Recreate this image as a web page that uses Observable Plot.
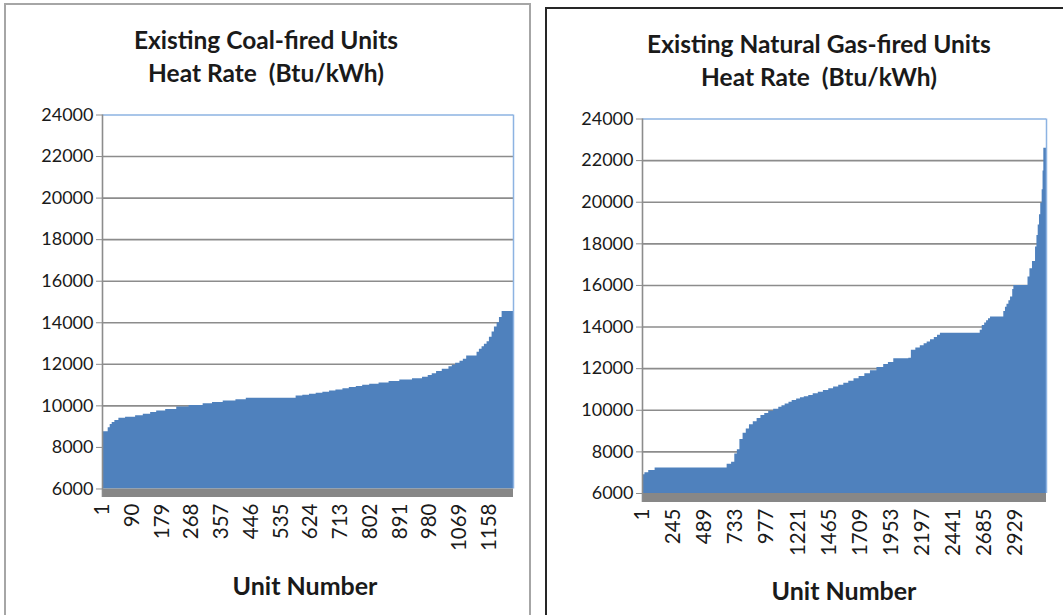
<!DOCTYPE html>
<html><head><meta charset="utf-8">
<script src="https://cdn.jsdelivr.net/npm/d3@7"></script>
<script src="https://cdn.jsdelivr.net/npm/@observablehq/plot@0.6"></script>
<style>
body{margin:0;background:#fff;width:1063px;height:615px;overflow:hidden;position:relative;font-family:Lato,sans-serif;color:#1a1a1a;}
.panel{position:absolute;box-sizing:border-box;}
#p1{left:4px;top:3px;width:527px;height:640px;border:2px solid #a6a6a6;}
#p2{left:545px;top:7px;width:560px;height:640px;border:2px solid #262626;}
.title{position:absolute;font-weight:bold;font-size:24.5px;text-align:center;line-height:33px;white-space:nowrap;transform:translateX(-50%);}
.xlab{position:absolute;font-weight:bold;font-size:25px;white-space:nowrap;transform:translate(-50%,-50%);}
.chart{position:absolute;top:0;}
.chart g[aria-label="x-axis tick label"] text{font-size:20.5px;}
</style></head>
<body>
<div class="panel" id="p1"></div>
<div class="panel" id="p2"></div>
<div class="title" style="left:266px;top:23px">Existing Coal-fired Units<br>Heat Rate&nbsp; (Btu/kWh)</div>
<div class="title" style="left:819px;top:27px">Existing Natural Gas-fired Units<br>Heat Rate&nbsp; (Btu/kWh)</div>
<div class="chart" id="c1" style="left:0px"></div>
<div class="chart" id="c2" style="left:545px"></div>
<div class="xlab" style="left:305px;top:585px">Unit Number</div>
<div class="xlab" style="left:844px;top:590px">Unit Number</div>
<script>
// Y axis ticks (both charts)
const yTicks = [6000, 8000, 10000, 12000, 14000, 16000, 18000, 20000, 22000, 24000];

// Coal-fired units (sorted heat rate, Btu/kWh)
const coalCount = 1230;
const coalTicks = [1, 90, 179, 268, 357, 446, 535, 624, 713, 802, 891, 980, 1069, 1158];
const coalUnits = [1, 18, 24, 30, 38, 50, 70, 100, 123, 145, 163, 190, 223, 260, 302, 330, 362, 400, 431, 580, 600, 620, 640, 660, 680, 699, 720, 739, 760, 779, 800, 828, 858, 890, 928, 958, 975, 987, 1000, 1017, 1037, 1047, 1057, 1070, 1080, 1090, 1121, 1128, 1136, 1143, 1151, 1158, 1166, 1173, 1181, 1188, 1196, 1230];
const coalRate  = [8750, 8950, 9100, 9200, 9300, 9400, 9450, 9520, 9600, 9680, 9750, 9830, 9950, 10020, 10100, 10160, 10230, 10300, 10370, 10470, 10510, 10560, 10610, 10660, 10710, 10760, 10820, 10880, 10930, 10990, 11040, 11100, 11170, 11240, 11300, 11380, 11460, 11550, 11650, 11760, 11880, 11960, 12050, 12150, 12250, 12400, 12580, 12720, 12850, 12970, 13090, 13300, 13560, 13800, 14000, 14250, 14540, 14540];

// Natural gas-fired units
const gasCount = 3170;
const gasTicks = [1, 245, 489, 733, 977, 1221, 1465, 1709, 1953, 2197, 2441, 2685, 2929];
const gasUnits = [1, 20, 50, 100, 640, 665, 700, 725, 745, 765, 790, 815, 840, 870, 900, 930, 960, 991, 1030, 1070, 1095, 1120, 1150, 1175, 1210, 1240, 1270, 1305, 1340, 1380, 1420, 1462, 1500, 1540, 1580, 1619, 1660, 1700, 1745, 1789, 1840, 1893, 1930, 1972, 2090, 2110, 2145, 2180, 2210, 2234, 2260, 2290, 2315, 2338, 2626, 2650, 2666, 2685, 2700, 2715, 2731, 2823, 2835, 2848, 2860, 2875, 2888, 2905, 2914, 3019, 3025, 3040, 3060, 3084, 3095, 3105, 3115, 3125, 3136, 3143, 3149, 3170];
const gasRate  = [6900, 7000, 7100, 7220, 7220, 7400, 7500, 7900, 8100, 8600, 8900, 9100, 9300, 9450, 9600, 9750, 9850, 9950, 10050, 10150, 10220, 10300, 10390, 10470, 10540, 10600, 10650, 10710, 10790, 10870, 10950, 11030, 11120, 11200, 11300, 11400, 11510, 11620, 11760, 11900, 12050, 12200, 12300, 12480, 12500, 12880, 12990, 13100, 13200, 13280, 13390, 13500, 13600, 13700, 13700, 13850, 14080, 14200, 14300, 14400, 14480, 14480, 14750, 14950, 15100, 15270, 15440, 15800, 16000, 16000, 16400, 16800, 17150, 17850, 18400, 18900, 19400, 19950, 20600, 21500, 22600, 22600];

function chart(o) {
  const data = o.units.map((u, i) => ({unit: u, rate: o.values[i]}));
  const grid = "#8c8c8c";
  return Plot.plot({
    width: o.width, height: 615,
    marginTop: o.mt, marginBottom: o.mb, marginLeft: o.ml, marginRight: o.mr,
    style: {fontFamily: "Lato, sans-serif", fontSize: "18px", color: "#1a1a1a", background: "transparent", overflow: "visible"},
    x: {domain: [1, o.n]},
    y: {domain: [o.yMin, 24000]},
    marks: [
      Plot.ruleY(yTicks.slice(1, -1), {stroke: grid, strokeWidth: 1.6}),
      Plot.areaY(data, {x: "unit", y1: 6000, y2: "rate", curve: "step-after", fill: "#4f81bd"}),
      Plot.rect([{}], {x1: 1, x2: o.n, y1: o.yMin, y2: 6000, fill: "#878787"}),
      Plot.ruleY([24000], {stroke: "#8db3e2", strokeWidth: 1.5}),
      Plot.ruleX([o.n], {y1: 6000, y2: 24000, stroke: "#8db3e2", strokeWidth: 1.5}),
      Plot.ruleX([1], {y1: o.yMin, y2: 24000, stroke: grid, strokeWidth: 1.6}),
      Plot.axisY({ticks: yTicks, tickSize: 6, tickPadding: 3, stroke: grid, tickFormat: d => String(d), label: null}),
      Plot.axisX({ticks: o.xTicks, tickRotate: -90, tickSize: 0, tickPadding: 6, fontSize: 20.5, tickFormat: d => String(d), label: null})
    ]
  });
}

document.getElementById("c1").append(chart({
  units: coalUnits, values: coalRate, n: coalCount, xTicks: coalTicks,
  yMin: 5590, width: 531, mt: 114.5, mb: 118, ml: 102, mr: 18
}));
document.getElementById("c2").append(chart({
  units: gasUnits, values: gasRate, n: gasCount, xTicks: gasTicks,
  yMin: 5567, width: 518, mt: 118.5, mb: 113, ml: 97, mr: 17
}));
</script>
</body></html>
